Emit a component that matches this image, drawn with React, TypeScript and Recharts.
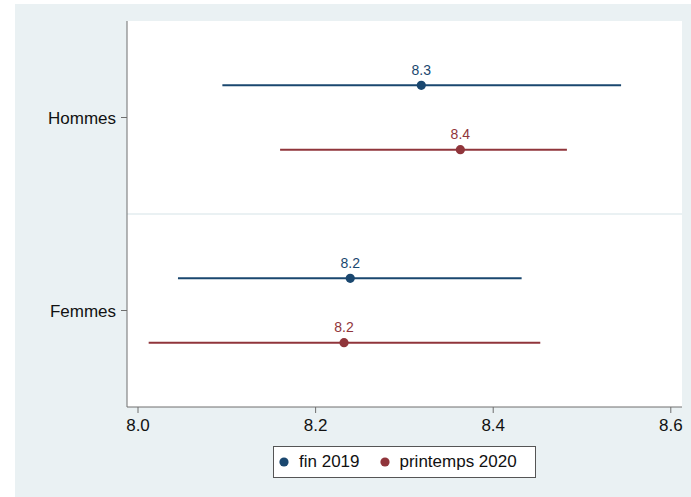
import React from "react";
import {
  ScatterChart,
  Scatter,
  XAxis,
  YAxis,
  ErrorBar,
  LabelList,
  ReferenceLine,
  CartesianGrid,
} from "recharts";

const groups = ["Hommes", "Femmes"];
const seriesNames = ["fin 2019", "printemps 2020"];
const seriesColors = ["#1a476f", "#90353b"];

// point estimate and confidence interval, one value per group
const fin2019Mean = [8.319, 8.239];
const fin2019Low = [8.095, 8.045];
const fin2019High = [8.544, 8.432];

const printemps2020Mean = [8.363, 8.232];
const printemps2020Low = [8.16, 8.012];
const printemps2020High = [8.483, 8.453];

const xTicks = [8.0, 8.2, 8.4, 8.6];

const BG = "#eaf1f3";
const FONT = "'Liberation Sans', Arial, sans-serif";

function build(mean: number[], low: number[], high: number[], offset: number) {
  return mean.map((m, i) => ({
    y: i + 1 + offset,
    x: m,
    err: [m - low[i], high[i] - m],
    label: m.toFixed(1),
  }));
}

const fin2019 = build(fin2019Mean, fin2019Low, fin2019High, -1 / 6);
const printemps2020 = build(printemps2020Mean, printemps2020Low, printemps2020High, 1 / 6);

const dot = (color: string) => (props: any) => (
  <circle cx={props.cx} cy={props.cy} r={4.6} fill={color} />
);

export default function App() {
  return (
    <div style={{ position: "absolute", left: 0, top: 0, width: 691, height: 497, background: "#fff" }}>
      <div style={{ position: "absolute", left: 15, top: 4, width: 676, height: 493, background: BG, fontFamily: FONT }}>
        <ScatterChart width={676} height={493} margin={{ top: 17, right: 9, left: 0, bottom: 50 }}>
          <CartesianGrid fill="#ffffff" horizontal={false} vertical={false} />
          <XAxis
            type="number"
            dataKey="x"
            domain={[7.9876, 8.6126]}
            ticks={xTicks}
            allowDataOverflow
            tickFormatter={(v: number) => v.toFixed(1)}
            tickSize={6}
            tickMargin={6}
            height={40}
            stroke="#6e6e6e"
            tick={{ fill: "#111", fontSize: 17, fontFamily: FONT }}
          />
          <YAxis
            type="number"
            dataKey="y"
            domain={[0.5, 2.5]}
            reversed
            ticks={[1, 2]}
            allowDataOverflow
            tickFormatter={(v: number) => groups[v - 1] ?? ""}
            tickSize={6}
            tickMargin={5}
            width={112}
            stroke="#6e6e6e"
            tick={{ fill: "#111", fontSize: 17, fontFamily: FONT }}
          />
          <ReferenceLine y={1.5} stroke={BG} strokeWidth={2} />
          <Scatter
            name={seriesNames[0]}
            data={fin2019}
            fill={seriesColors[0]}
            shape={dot(seriesColors[0])}
            isAnimationActive={false}
          >
            <ErrorBar dataKey="err" direction="x" width={0} stroke={seriesColors[0]} strokeWidth={2} />
            <LabelList dataKey="label" position="top" offset={6} fill={seriesColors[0]} fontSize={14} fontFamily={FONT} />
          </Scatter>
          <Scatter
            name={seriesNames[1]}
            data={printemps2020}
            fill={seriesColors[1]}
            shape={dot(seriesColors[1])}
            isAnimationActive={false}
          >
            <ErrorBar dataKey="err" direction="x" width={0} stroke={seriesColors[1]} strokeWidth={2} />
            <LabelList dataKey="label" position="top" offset={6} fill={seriesColors[1]} fontSize={14} fontFamily={FONT} />
          </Scatter>
        </ScatterChart>
        <div
          style={{
            position: "absolute",
            left: 258,
            top: 442,
            width: 261,
            height: 30,
            background: "#fff",
            border: "1px solid #555",
            display: "flex",
            alignItems: "center",
            fontSize: 17,
            color: "#111",
          }}
        >
          {seriesNames.map((n, i) => (
            <div key={n} style={{ display: "flex", alignItems: "center", marginLeft: i === 0 ? 5 : 20 }}>
              <svg width={10} height={10} style={{ marginRight: 10 }}>
                <circle cx={5} cy={5} r={4.6} fill={seriesColors[i]} />
              </svg>
              <span>{n}</span>
            </div>
          ))}
        </div>
      </div>
    </div>
  );
}
